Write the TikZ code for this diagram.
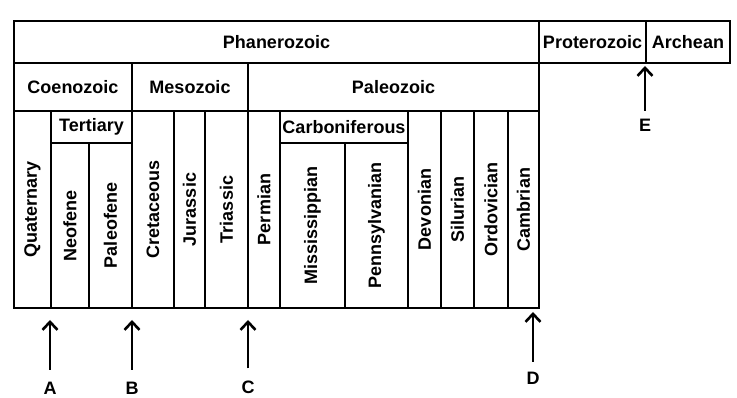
\documentclass[tikz,border=0pt]{standalone}
\usepackage{fontspec}
\setmainfont{Liberation Sans}
\usetikzlibrary{arrows.meta}
\tikzset{
  cell/.style={draw, line width=2pt, inner sep=0pt, anchor=north west,
    font=\bfseries\fontsize{18}{21}\selectfont},
  lab/.style={inner sep=0pt, font=\bfseries\fontsize{18}{21}\selectfont},
  arr/.style={line width=2.6pt, -{Straight Barb[length=8pt,width=15pt]}}
}
\newcommand{\vt}[1]{\rotatebox{90}{#1}}
\begin{document}
\begin{tikzpicture}[x=1pt,y=-1pt]
\useasboundingbox (0,0) rectangle (737,398);
% top rows
\node[cell, minimum width=525pt, minimum height=42pt] (phan) at (13,20) {Phanerozoic};
\node[cell, minimum width=107pt, minimum height=42pt] (prot) at (538,20) {Proterozoic};
\node[cell, minimum width=84pt, minimum height=42pt] (arch) at (645,20) {Archean};
% eras
\node[cell, minimum width=118pt, minimum height=48pt] (coen) at (13,62) {Coenozoic};
\node[cell, minimum width=116pt, minimum height=48pt] (meso) at (131,62) {Mesozoic};
\node[cell, minimum width=291pt, minimum height=48pt] (pale) at (247,62) {Paleozoic};
% periods
\node[cell, minimum width=37pt, minimum height=197pt] (quat) at (13,110) {\vt{Quaternary}};
\node[cell, minimum width=81pt, minimum height=32pt] (tert) at (50,110) {Tertiary};
\node[cell, minimum width=38pt, minimum height=165pt] (neo) at (50,142) {\vt{Neofene}};
\node[cell, minimum width=43pt, minimum height=165pt] (paleo) at (88,142) {\vt{Paleofene}};
\node[cell, minimum width=42pt, minimum height=197pt] (cret) at (131,110) {\vt{Cretaceous}};
\node[cell, minimum width=31pt, minimum height=197pt] (jur) at (173,110) {\vt{Jurassic}};
\node[cell, minimum width=43pt, minimum height=197pt] (tri) at (204,110) {\vt{Triassic}};
\node[cell, minimum width=32pt, minimum height=197pt] (perm) at (247,110) {\vt{Permian}};
\node[cell, minimum width=128pt, minimum height=32pt] (carb) at (279,110) {Carboniferous};
\node[cell, minimum width=65pt, minimum height=165pt] (miss) at (279,142) {\vt{Mississippian}};
\node[cell, minimum width=63pt, minimum height=165pt] (penn) at (344,142) {\vt{Pennsylvanian}};
\node[cell, minimum width=33pt, minimum height=197pt] (dev) at (407,110) {\vt{Devonian}};
\node[cell, minimum width=33pt, minimum height=197pt] (sil) at (440,110) {\vt{Silurian}};
\node[cell, minimum width=34pt, minimum height=197pt] (ord) at (473,110) {\vt{Ordovician}};
\node[cell, minimum width=31pt, minimum height=197pt] (cam) at (507,110) {\vt{Cambrian}};
% arrows
\node[lab] (lA) at (50,388) {A};
\node[lab] (lB) at (132,388) {B};
\node[lab] (lC) at (248,387) {C};
\node[lab] (lD) at (533,378) {D};
\node[lab] (lE) at (645,125) {E};
\coordinate (tA) at (50,320);
\coordinate (tB) at (132,320);
\coordinate (tC) at (248,320);
\coordinate (tD) at (533,312);
\coordinate (tE) at (645,66);
\draw[arr, shorten <=12pt] (lA.north) -- (tA);
\draw[arr, shorten <=12pt] (lB.north) -- (tB);
\draw[arr, shorten <=12pt] (lC.north) -- (tC);
\draw[arr, shorten <=10pt] (lD.north) -- (tD);
\draw[arr, shorten <=8pt] (lE.north) -- (tE);
\end{tikzpicture}
\end{document}
